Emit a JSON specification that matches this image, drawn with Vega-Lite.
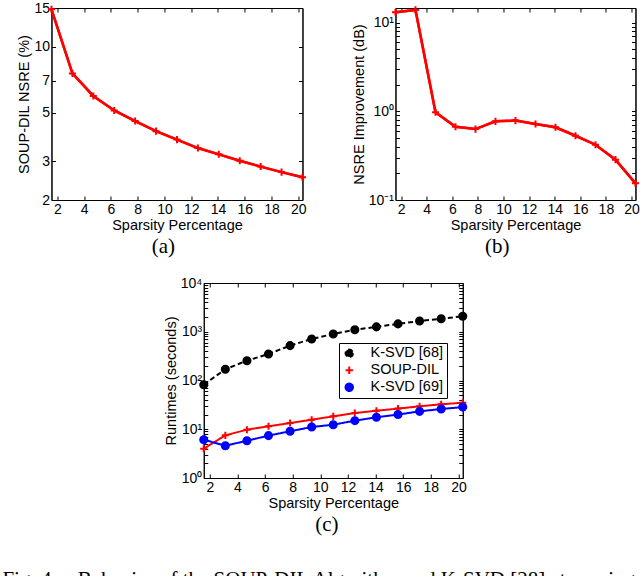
{
  "$schema": "https://vega.github.io/schema/vega-lite/v6.json",
  "padding": {"left": 2, "top": 0, "right": 0, "bottom": 0},
  "config": {
    "font": "Liberation Sans",
    "view": {"stroke": "black", "strokeWidth": 1},
    "axis": {"domainColor": "black", "tickColor": "black", "labelColor": "black", "titleColor": "black", "labelFont": "Liberation Sans", "titleFont": "Liberation Sans", "labelFontSize": 14, "titleFontSize": 14.5, "titleFontWeight": "normal", "grid": false, "tickSize": -4, "labelPadding": 6, "labelFlush": false, "labelOverlap": false, "titlePadding": 2},
    "title": {"font": "Liberation Serif", "fontSize": 21, "fontWeight": "normal", "color": "black"},
    "legend": {"labelFont": "Liberation Sans", "labelFontSize": 14.5, "labelColor": "black", "title": null, "orient": "none", "legendX": 288, "legendY": 335, "fillColor": "white", "strokeColor": "black", "padding": 3, "rowPadding": 1, "symbolSize": 55, "labelOffset": 14, "symbolStrokeWidth": 2}
  },
  "title": {"text": "Fig. 4.\u00a0\u00a0\u00a0 Behavior of the SOUP-DIL Algorithm and K-SVD [28] at varying", "orient": "bottom", "anchor": "start", "frame": "bounds", "offset": 34, "dx": -14},
  "center": true,
  "spacing": 18,
  "vconcat": [
    {
      "spacing": 39,
      "hconcat": [
        {
          "width": 251, "height": 192,
          "title": {"text": "(a)", "orient": "bottom", "frame": "bounds", "anchor": "middle", "offset": 4},
          "data": {"values": [
            {"sparsity": 1.5625, "nsre": 14.8}, {"sparsity": 3.125, "nsre": 7.55}, {"sparsity": 4.6875, "nsre": 5.96},
            {"sparsity": 6.25, "nsre": 5.12}, {"sparsity": 7.8125, "nsre": 4.58}, {"sparsity": 9.375, "nsre": 4.12},
            {"sparsity": 10.9375, "nsre": 3.77}, {"sparsity": 12.5, "nsre": 3.45}, {"sparsity": 14.0625, "nsre": 3.23},
            {"sparsity": 15.625, "nsre": 3.02}, {"sparsity": 17.1875, "nsre": 2.84}, {"sparsity": 18.75, "nsre": 2.68},
            {"sparsity": 20.3125, "nsre": 2.54}
          ]},
          "layer": [
            {
              "mark": {"type": "line", "color": "#ff0000", "strokeWidth": 2.5, "point": {"shape": "M-1,0L1,0M0,-1L0,1", "filled": false, "color": "#ff0000", "strokeWidth": 2, "size": 50}},
              "encoding": {
                "x": {"field": "sparsity", "type": "quantitative", "scale": {"domain": [1.5625, 20.3125], "nice": false, "zero": false}, "axis": {"values": [2, 4, 6, 8, 10, 12, 14, 16, 18, 20], "title": "Sparsity Percentage"}},
                "y": {"field": "nsre", "type": "quantitative", "scale": {"type": "log", "domain": [2, 15], "nice": false}, "axis": {"values": [2, 3, 5, 7, 10, 15], "title": "SOUP-DIL NSRE (%)"}}
              }
            },
            {
              "mark": {"type": "line", "color": "#ff0000", "strokeWidth": 2.5},
              "encoding": {
                "x": {"field": "sparsity", "type": "quantitative", "axis": {"orient": "top", "values": [2, 4, 6, 8, 10, 12, 14, 16, 18, 20], "labels": false, "title": null}},
                "y": {"field": "nsre", "type": "quantitative", "axis": {"orient": "right", "values": [2, 3, 5, 7, 10, 15], "labels": false, "title": null}}
              }
            }
          ],
          "resolve": {"axis": {"x": "independent", "y": "independent"}}
        },
        {
          "width": 240, "height": 192,
          "title": {"text": "(b)", "orient": "bottom", "frame": "bounds", "anchor": "middle", "offset": 4},
          "data": {"values": [
            {"sparsity": 1.5625, "imp": 13.1}, {"sparsity": 3.125, "imp": 13.9}, {"sparsity": 4.6875, "imp": 0.975},
            {"sparsity": 6.25, "imp": 0.67}, {"sparsity": 7.8125, "imp": 0.63}, {"sparsity": 9.375, "imp": 0.77},
            {"sparsity": 10.9375, "imp": 0.785}, {"sparsity": 12.5, "imp": 0.72}, {"sparsity": 14.0625, "imp": 0.66},
            {"sparsity": 15.625, "imp": 0.53}, {"sparsity": 17.1875, "imp": 0.42}, {"sparsity": 18.75, "imp": 0.285},
            {"sparsity": 20.3125, "imp": 0.154}
          ]},
          "layer": [
            {
              "mark": {"type": "line", "color": "#ff0000", "strokeWidth": 2.5, "point": {"shape": "M-1,0L1,0M0,-1L0,1", "filled": false, "color": "#ff0000", "strokeWidth": 2, "size": 50}},
              "encoding": {
                "x": {"field": "sparsity", "type": "quantitative", "scale": {"domain": [1.5625, 20.3125], "nice": false, "zero": false}, "axis": {"values": [2, 4, 6, 8, 10, 12, 14, 16, 18, 20], "title": "Sparsity Percentage"}},
                "y": {"field": "imp", "type": "quantitative", "scale": {"type": "log", "domain": [0.1, 14.6], "nice": false}, "axis": {"values": [0.1, 0.2, 0.3, 0.4, 0.5, 0.6, 0.7, 0.8, 0.9, 1, 2, 3, 4, 5, 6, 7, 8, 9, 10], "labelExpr": "datum.value == 10 ? '10¹' : datum.value == 1 ? '10⁰' : datum.value == 0.1 ? '10⁻¹' : ''", "title": "NSRE Improvement (dB)"}}
              }
            },
            {
              "mark": {"type": "line", "color": "#ff0000", "strokeWidth": 2.5},
              "encoding": {
                "x": {"field": "sparsity", "type": "quantitative", "axis": {"orient": "top", "values": [2, 4, 6, 8, 10, 12, 14, 16, 18, 20], "labels": false, "title": null}},
                "y": {"field": "imp", "type": "quantitative", "axis": {"orient": "right", "values": [0.1, 0.2, 0.3, 0.4, 0.5, 0.6, 0.7, 0.8, 0.9, 1, 2, 3, 4, 5, 6, 7, 8, 9, 10], "labels": false, "title": null}}
              }
            }
          ],
          "resolve": {"axis": {"x": "independent", "y": "independent"}}
        }
      ]
    },
    {
      "width": 259, "height": 195,
      "title": {"text": "(c)", "orient": "bottom", "frame": "bounds", "anchor": "middle", "offset": 4},
      "data": {"values": [
        {"sparsity": 1.5625, "series": "K-SVD [68]", "t": 82}, {"sparsity": 3.125, "series": "K-SVD [68]", "t": 170},
        {"sparsity": 4.6875, "series": "K-SVD [68]", "t": 255}, {"sparsity": 6.25, "series": "K-SVD [68]", "t": 350},
        {"sparsity": 7.8125, "series": "K-SVD [68]", "t": 520}, {"sparsity": 9.375, "series": "K-SVD [68]", "t": 710},
        {"sparsity": 10.9375, "series": "K-SVD [68]", "t": 900}, {"sparsity": 12.5, "series": "K-SVD [68]", "t": 1100},
        {"sparsity": 14.0625, "series": "K-SVD [68]", "t": 1260}, {"sparsity": 15.625, "series": "K-SVD [68]", "t": 1450},
        {"sparsity": 17.1875, "series": "K-SVD [68]", "t": 1660}, {"sparsity": 18.75, "series": "K-SVD [68]", "t": 1850},
        {"sparsity": 20.3125, "series": "K-SVD [68]", "t": 2075},
        {"sparsity": 1.5625, "series": "SOUP-DIL", "t": 4.0}, {"sparsity": 3.125, "series": "SOUP-DIL", "t": 7.5},
        {"sparsity": 4.6875, "series": "SOUP-DIL", "t": 9.8}, {"sparsity": 6.25, "series": "SOUP-DIL", "t": 11.5},
        {"sparsity": 7.8125, "series": "SOUP-DIL", "t": 13.4}, {"sparsity": 9.375, "series": "SOUP-DIL", "t": 15.7},
        {"sparsity": 10.9375, "series": "SOUP-DIL", "t": 18.4}, {"sparsity": 12.5, "series": "SOUP-DIL", "t": 21.5},
        {"sparsity": 14.0625, "series": "SOUP-DIL", "t": 24}, {"sparsity": 15.625, "series": "SOUP-DIL", "t": 26.5},
        {"sparsity": 17.1875, "series": "SOUP-DIL", "t": 29.6}, {"sparsity": 18.75, "series": "SOUP-DIL", "t": 32.5},
        {"sparsity": 20.3125, "series": "SOUP-DIL", "t": 35},
        {"sparsity": 1.5625, "series": "K-SVD [69]", "t": 6.1}, {"sparsity": 3.125, "series": "K-SVD [69]", "t": 4.6},
        {"sparsity": 4.6875, "series": "K-SVD [69]", "t": 5.8}, {"sparsity": 6.25, "series": "K-SVD [69]", "t": 7.4},
        {"sparsity": 7.8125, "series": "K-SVD [69]", "t": 9.1}, {"sparsity": 9.375, "series": "K-SVD [69]", "t": 11.1},
        {"sparsity": 10.9375, "series": "K-SVD [69]", "t": 12.4}, {"sparsity": 12.5, "series": "K-SVD [69]", "t": 15},
        {"sparsity": 14.0625, "series": "K-SVD [69]", "t": 17.6}, {"sparsity": 15.625, "series": "K-SVD [69]", "t": 20},
        {"sparsity": 17.1875, "series": "K-SVD [69]", "t": 23.3}, {"sparsity": 18.75, "series": "K-SVD [69]", "t": 26},
        {"sparsity": 20.3125, "series": "K-SVD [69]", "t": 28.5}
      ]},
      "layer": [
        {
          "mark": {"type": "line", "strokeWidth": 2},
          "encoding": {
            "x": {"field": "sparsity", "type": "quantitative", "scale": {"domain": [1.5625, 20.3125], "nice": false, "zero": false}, "axis": {"values": [2, 4, 6, 8, 10, 12, 14, 16, 18, 20], "title": "Sparsity Percentage"}},
            "y": {"field": "t", "type": "quantitative", "scale": {"type": "log", "domain": [1, 10000], "nice": false}, "axis": {"values": [1, 2, 3, 4, 5, 6, 7, 8, 9, 10, 20, 30, 40, 50, 60, 70, 80, 90, 100, 200, 300, 400, 500, 600, 700, 800, 900, 1000, 2000, 3000, 4000, 5000, 6000, 7000, 8000, 9000, 10000], "labelExpr": "datum.value == 10000 ? '10⁴' : datum.value == 1000 ? '10³' : datum.value == 100 ? '10²' : datum.value == 10 ? '10¹' : datum.value == 1 ? '10⁰' : ''", "title": "Runtimes (seconds)"}},
            "color": {"field": "series", "type": "nominal", "scale": {"domain": ["K-SVD [68]", "SOUP-DIL", "K-SVD [69]"], "range": ["#000000", "#ff0000", "#0000ff"]}},
            "strokeDash": {"field": "series", "type": "nominal", "scale": {"domain": ["K-SVD [68]", "SOUP-DIL", "K-SVD [69]"], "range": [[5, 3], [1, 0], [1, 0]]}}
          }
        },
        {
          "mark": {"type": "point", "filled": true, "size": 50, "strokeWidth": 2, "opacity": 1},
          "encoding": {
            "x": {"field": "sparsity", "type": "quantitative", "axis": {"orient": "top", "values": [2, 4, 6, 8, 10, 12, 14, 16, 18, 20], "labels": false, "title": null}},
            "y": {"field": "t", "type": "quantitative", "axis": {"orient": "right", "values": [1, 2, 3, 4, 5, 6, 7, 8, 9, 10, 20, 30, 40, 50, 60, 70, 80, 90, 100, 200, 300, 400, 500, 600, 700, 800, 900, 1000, 2000, 3000, 4000, 5000, 6000, 7000, 8000, 9000, 10000], "labels": false, "title": null, "minExtent": 28}},
            "color": {"field": "series", "type": "nominal", "scale": {"domain": ["K-SVD [68]", "SOUP-DIL", "K-SVD [69]"], "range": ["#000000", "#ff0000", "#0000ff"]}},
            "stroke": {"field": "series", "type": "nominal", "scale": {"domain": ["K-SVD [68]", "SOUP-DIL", "K-SVD [69]"], "range": ["#000000", "#ff0000", "#0000ff"]}},
            "shape": {"field": "series", "type": "nominal", "scale": {"domain": ["K-SVD [68]", "SOUP-DIL", "K-SVD [69]"], "range": ["circle", "M-1,0L1,0M0,-1L0,1", "circle"]}}
          }
        }
      ],
      "resolve": {"axis": {"x": "independent", "y": "independent"}}
    }
  ]
}
